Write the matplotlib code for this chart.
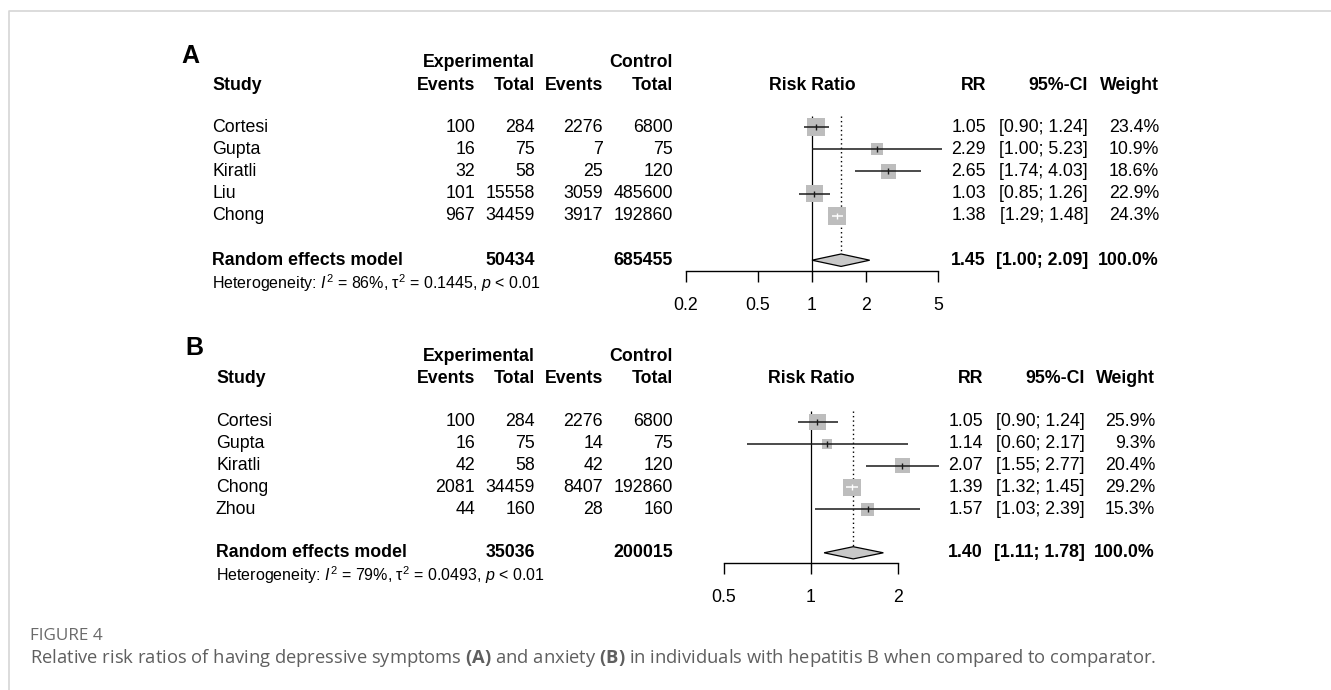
import numpy as np
import matplotlib
matplotlib.use('Agg')
import matplotlib.pyplot as plt
from matplotlib.transforms import blended_transform_factory
from matplotlib.lines import Line2D
from matplotlib.ticker import NullLocator

plt.rcParams['font.family'] = ['Liberation Sans', 'DejaVu Sans']
plt.rcParams['mathtext.fontset'] = 'custom'
plt.rcParams['mathtext.rm'] = 'Liberation Sans'
plt.rcParams['mathtext.it'] = 'Liberation Sans:italic'
plt.rcParams['mathtext.bf'] = 'Open Sans:bold'

# ---- panel A: depressive symptoms
a_study = ['Cortesi', 'Gupta', 'Kiratli', 'Liu', 'Chong']
a_ev_exp = [100, 16, 32, 101, 967]
a_n_exp = [284, 75, 58, 15558, 34459]
a_ev_ctl = [2276, 7, 25, 3059, 3917]
a_n_ctl = [6800, 75, 120, 485600, 192860]
a_rr = [1.05, 2.29, 2.65, 1.03, 1.38]
a_lo = [0.90, 1.00, 1.74, 0.85, 1.29]
a_hi = [1.24, 5.23, 4.03, 1.26, 1.48]
a_weight = [23.4, 10.9, 18.6, 22.9, 24.3]
a_pooled = [1.45, 1.00, 2.09]
a_totals = [50434, 685455]
a_het = ['86%', '0.1445', '0.01']
a_ticks = [0.2, 0.5, 1, 2, 5]

# ---- panel B: anxiety
b_study = ['Cortesi', 'Gupta', 'Kiratli', 'Chong', 'Zhou']
b_ev_exp = [100, 16, 42, 2081, 44]
b_n_exp = [284, 75, 58, 34459, 160]
b_ev_ctl = [2276, 14, 42, 8407, 28]
b_n_ctl = [6800, 75, 120, 192860, 160]
b_rr = [1.05, 1.14, 2.07, 1.39, 1.57]
b_lo = [0.90, 0.60, 1.55, 1.32, 1.03]
b_hi = [1.24, 2.17, 2.77, 1.45, 2.39]
b_weight = [25.9, 9.3, 20.4, 29.2, 15.3]
b_pooled = [1.40, 1.11, 1.78]
b_totals = [35036, 200015]
b_het = ['79%', '0.0493', '0.01']
b_ticks = [0.5, 1, 2]

W, H = 1331, 690
FS = 12.8
FS_HET = 11.5
fig = plt.figure(figsize=(W / 100, H / 100), dpi=100)

# layout in pixels
lay_a = dict(y0=127, dy=22.2, x0=686, x1=938, study_x=212, cols=[475, 535, 603, 673],
             right=[986, 1088, 1159], label_row=-3.2, hdr=(-2.9, -1.85), rbot=6.49)
lay_b = dict(y0=422, dy=21.8, x0=724, x1=898, study_x=216, cols=[475, 535, 603, 673],
             right=[983, 1085, 1155], label_row=-3.4, hdr=(-3.0, -2.0), rbot=6.47)


def panel(L, letter, study, ev_e, n_e, ev_c, n_c, rr, lo, hi, wt, pooled, totals, het, ticks):
    rtop = -3.8
    rbot = L['rbot']
    top_px = L['y0'] + L['dy'] * rtop
    bot_px = L['y0'] + L['dy'] * rbot
    ax = fig.add_axes([L['x0'] / W, 1 - bot_px / H, (L['x1'] - L['x0']) / W, (bot_px - top_px) / H])
    ax.set_xscale('log')
    ax.set_xlim(ticks[0], ticks[-1])
    ax.set_ylim(rbot, rtop)
    ax.patch.set_visible(False)
    for s in ['top', 'left', 'right']:
        ax.spines[s].set_visible(False)
    ax.spines['bottom'].set_bounds(ticks[0], ticks[-1])
    ax.spines['bottom'].set_linewidth(1.0)
    ax.set_yticks([])
    ax.xaxis.set_minor_locator(NullLocator())
    ax.set_xticks(ticks)
    ax.set_xticklabels([('%g' % t) for t in ticks])
    ax.tick_params(axis='x', direction='out', length=7.9, width=1.0, pad=10.5, labelsize=FS)

    tr = blended_transform_factory(fig.transFigure, ax.transData)

    def txt(px, row, s, **kw):
        ax.text(px / W, row, s, transform=tr, va='center', fontsize=kw.pop('fontsize', FS),
                clip_on=False, **kw)

    rows = np.arange(len(study))
    r_pool = len(study) + 1

    # headers
    txt(L['study_x'] - 31, L['label_row'], letter, fontsize=18, fontweight='bold')
    h1, h2 = L['hdr']
    txt(L['cols'][1], h1, 'Experimental', ha='right', fontweight='bold')
    txt(L['cols'][3], h1, 'Control', ha='right', fontweight='bold')
    txt(L['study_x'], h2, 'Study', ha='left', fontweight='bold')
    for c, s in zip(L['cols'], ['Events', 'Total', 'Events', 'Total']):
        txt(c, h2, s, ha='right', fontweight='bold')
    ax.text(1.0, h2, 'Risk Ratio', ha='center', va='center', fontsize=FS, fontweight='bold')
    for c, s in zip(L['right'], ['RR', '95%-CI', 'Weight']):
        txt(c, h2, s, ha='right', fontweight='bold')

    # study rows
    for i in rows:
        txt(L['study_x'], i, study[i], ha='left')
        for c, v in zip(L['cols'], [ev_e[i], n_e[i], ev_c[i], n_c[i]]):
            txt(c, i, str(v), ha='right')
        txt(L['right'][0], i, '%.2f' % rr[i], ha='right')
        txt(L['right'][1], i, '[%.2f; %.2f]' % (lo[i], hi[i]), ha='right')
        txt(L['right'][2], i, '%.1f%%' % wt[i], ha='right')

    # pooled row
    txt(L['study_x'], r_pool, 'Random effects model', ha='left', fontweight='bold')
    txt(L['cols'][1], r_pool, str(totals[0]), ha='right', fontweight='bold')
    txt(L['cols'][3], r_pool, str(totals[1]), ha='right', fontweight='bold')
    txt(L['right'][0], r_pool, '%.2f' % pooled[0], ha='right', fontweight='bold')
    txt(L['right'][1], r_pool, '[%.2f; %.2f]' % (pooled[1], pooled[2]), ha='right', fontweight='bold')
    txt(L['right'][2], r_pool, '100.0%', ha='right', fontweight='bold')
    txt(L['study_x'], r_pool + 1.02,
        r'Heterogeneity: $I^2$ = %s, $\mathrm{\tau}^2$ = %s, $p$ < %s' % tuple(het),
        ha='left', fontsize=FS_HET)

    # reference lines
    ax.vlines(1.0, -0.5, rbot, color='black', lw=0.9, clip_on=False)
    ax.vlines(pooled[0], -0.5, r_pool - 0.28, color='black', lw=1.0,
              linestyles=(0, (1, 2.2)), clip_on=False)

    # squares, CIs and estimate marks
    wt = np.array(wt)
    side_px = 17.8 * np.sqrt(wt / wt.max())
    pxdec = (L['x1'] - L['x0']) / np.log10(ticks[-1] / ticks[0])
    ax.scatter(rr, rows, s=(side_px * 0.72) ** 2, marker='s', color='#bdbdbd',
               linewidths=0, zorder=2, clip_on=False)
    for i in rows:
        half = side_px[i] / 2 / pxdec
        inside = (np.log10(rr[i]) - np.log10(lo[i]) < half) and (np.log10(hi[i]) - np.log10(rr[i]) < half)
        col = 'white' if inside else '#1a1a1a'
        ax.hlines(i, lo[i], hi[i], color=col, lw=1.1, zorder=3, clip_on=False)
        ax.plot([rr[i]], [i], marker='|', ms=5, mew=1.0, color=col, zorder=3, clip_on=False)

    # diamond
    ax.fill([pooled[1], pooled[0], pooled[2], pooled[0]],
            [r_pool, r_pool - 0.28, r_pool, r_pool + 0.28],
            facecolor='#c8c8c8', edgecolor='black', lw=0.9, zorder=3, clip_on=False)
    return ax


panel(lay_a, 'A', a_study, a_ev_exp, a_n_exp, a_ev_ctl, a_n_ctl, a_rr, a_lo, a_hi,
      a_weight, a_pooled, a_totals, a_het, a_ticks)
panel(lay_b, 'B', b_study, b_ev_exp, b_n_exp, b_ev_ctl, b_n_ctl, b_rr, b_lo, b_hi,
      b_weight, b_pooled, b_totals, b_het, b_ticks)

# frame lines (top and left)
fig.add_artist(Line2D([9 / W, 9 / W, 1], [0, 1 - 11 / H, 1 - 11 / H], color='#d6d6d6', lw=1.2))

# caption
fig.text(30 / W, 1 - 636 / H, 'FIGURE 4', fontsize=12.3, color='#6a6a6a',
         family=['Open Sans', 'DejaVu Sans'], va='center', ha='left')
fig.text(30 / W, 1 - 658 / H,
         r'Relative risk ratios of having depressive symptoms $\mathbf{(A)}$ and anxiety '
         r'$\mathbf{(B)}$ in individuals with hepatitis B when compared to comparator.',
         fontsize=13.2, color='#5f5f5f', family=['Open Sans', 'DejaVu Sans'], va='center', ha='left')

fig.savefig('out.png', dpi=100)
